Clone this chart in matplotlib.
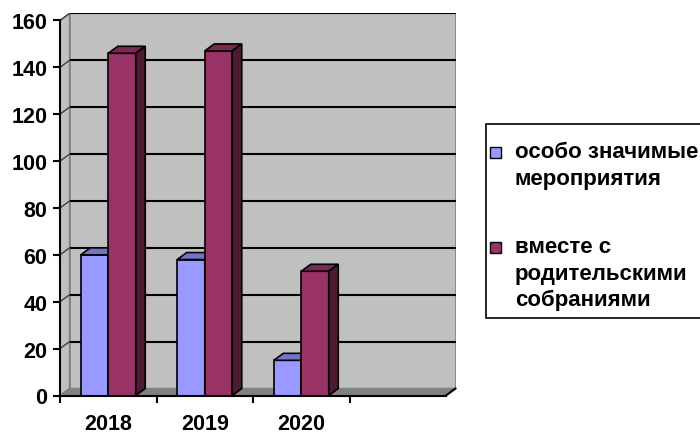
import numpy as np
import matplotlib
matplotlib.use("Agg")
import matplotlib.pyplot as plt
from matplotlib.patches import Polygon, Rectangle

FAM = ['Liberation Sans', 'DejaVu Sans']
plt.rcParams['font.family'] = FAM
plt.rcParams['font.weight'] = 'bold'

categories = ["2018", "2019", "2020", ""]
series_names = ["особо значимые\nмероприятия", "вместе с\nродительскими\nсобраниями"]
blue_vals = [60, 58, 15, np.nan]
purple_vals = [146, 147, 53, np.nan]
yticks = [0, 20, 40, 60, 80, 100, 120, 140, 160]

W, H = 700, 435
fig = plt.figure(figsize=(W / 100, H / 100), dpi=100)
fig.patch.set_facecolor("white")

PXX = 96.5           # px per category
PXY = 2.344          # px per unit
DX = 9.5 / PXX       # depth offset in data units
DY = 7.0 / PXY
NC = len(categories)
YMAX = yticks[-1]
FS = 15.5
FSL = 16

ax_left, ax_bottom = 60, H - 396.5
ax_w = (NC + DX) * PXX
ax_h = (YMAX + DY) * PXY
ax = fig.add_axes([ax_left / W, ax_bottom / H, ax_w / W, ax_h / H])
ax.set_xlim(0, NC + DX)
ax.set_ylim(0, YMAX + DY)
ax.patch.set_visible(False)

wall = "#C0C0C0"
# back wall
ax.add_patch(Polygon([(DX, DY), (NC + DX, DY), (NC + DX, YMAX + DY), (DX, YMAX + DY)],
                     closed=True, facecolor=wall, edgecolor="#808080", lw=1.2, zorder=0))
# side wall
ax.add_patch(Polygon([(0, 0), (DX, DY), (DX, YMAX + DY), (0, YMAX)],
                     closed=True, facecolor=wall, edgecolor="#808080", lw=1.0, zorder=0))
# floor
ax.add_patch(Polygon([(0, 0), (NC, 0), (NC + DX, DY), (DX, DY)],
                     closed=True, facecolor="#808080", edgecolor="#808080", lw=1.0, zorder=0.5))
# gridlines
for v in yticks[1:]:
    ax.plot([DX, NC + DX], [v + DY, v + DY], color="black", lw=1.5, zorder=1, solid_capstyle="butt")
    ax.plot([0, DX], [v, v + DY], color="#404040", lw=1.0, zorder=1)
# floor edge diagonal
ax.plot([NC, NC + DX], [0, DY], color="black", lw=1.5, zorder=2, clip_on=False)

# bars
x = np.arange(NC)
bw = 0.285
off_blue = 0.215
off_purple = off_blue + bw
series = [
    (blue_vals, off_blue, "#9999FF", "#7373CC", "#4D4D80", 3),
    (purple_vals, off_purple, "#993366", "#7A2952", "#4D1A33", 4),
]
for vals, off, cfront, ctop, cside, z in series:
    vals = np.asarray(vals, dtype=float)
    ax.bar(x + off, vals, width=bw, align="edge", color=cfront, edgecolor="black",
           linewidth=1.2, zorder=z)
    for xi, v in zip(x, vals):
        if np.isnan(v):
            continue
        x0, x1 = xi + off, xi + off + bw
        ax.add_patch(Polygon([(x0, v), (x1, v), (x1 + DX, v + DY), (x0 + DX, v + DY)],
                             closed=True, facecolor=ctop, edgecolor="black", lw=1.2, zorder=z))
        ax.add_patch(Polygon([(x1, 0), (x1 + DX, DY), (x1 + DX, v + DY), (x1, v)],
                             closed=True, facecolor=cside, edgecolor="black", lw=1.2, zorder=z))

# axes
for s in ["top", "right"]:
    ax.spines[s].set_visible(False)
ax.spines["left"].set_bounds(0, YMAX)
ax.spines["bottom"].set_bounds(0, NC)
for s in ["left", "bottom"]:
    ax.spines[s].set_linewidth(1.5)
    ax.spines[s].set_zorder(6)
ax.set_yticks(yticks)
ax.set_yticklabels([str(v) for v in yticks])
ax.tick_params(axis="y", length=5, width=1.5, pad=4, labelsize=FS)
ax.set_xticks(np.arange(NC))
ax.set_xticklabels([])
ax.tick_params(axis="x", which="major", length=5, width=1.5)
ax.set_xticks(x + 0.5, minor=True)
ax.set_xticklabels(categories, minor=True)
ax.tick_params(axis="x", which="minor", length=0, pad=12.5, labelsize=FS)
for lab in ax.get_yticklabels() + ax.get_xticklabels(minor=True):
    lab.set_fontweight("bold")
    lab.set_family(FAM)

# legend (manual, Excel style)
lx, ltop, lbot = 486, 125, 319
fig.add_artist(Rectangle((lx / W, 1 - lbot / H), (W + 20 - lx) / W, (lbot - ltop) / H,
                         transform=fig.transFigure, facecolor="white", edgecolor="black",
                         lw=1.2, clip_on=False))
legend_colors = ["#9999FF", "#993366"]
first_line_y = [153, 248]
line_gap = 26.3
for name, col, y0 in zip(series_names, legend_colors, first_line_y):
    fig.add_artist(Rectangle((489.5 / W, 1 - (y0 + 5.5) / H), 11 / W, 11 / H,
                             transform=fig.transFigure, facecolor=col, edgecolor="black", lw=1.0))
    for k, line in enumerate(name.split("\n")):
        fig.text(515 / W, 1 - (y0 + k * line_gap) / H, line, fontsize=FSL, fontweight="bold",
                 family=FAM, va="center", ha="left")

fig.savefig("out.png", dpi=100)
